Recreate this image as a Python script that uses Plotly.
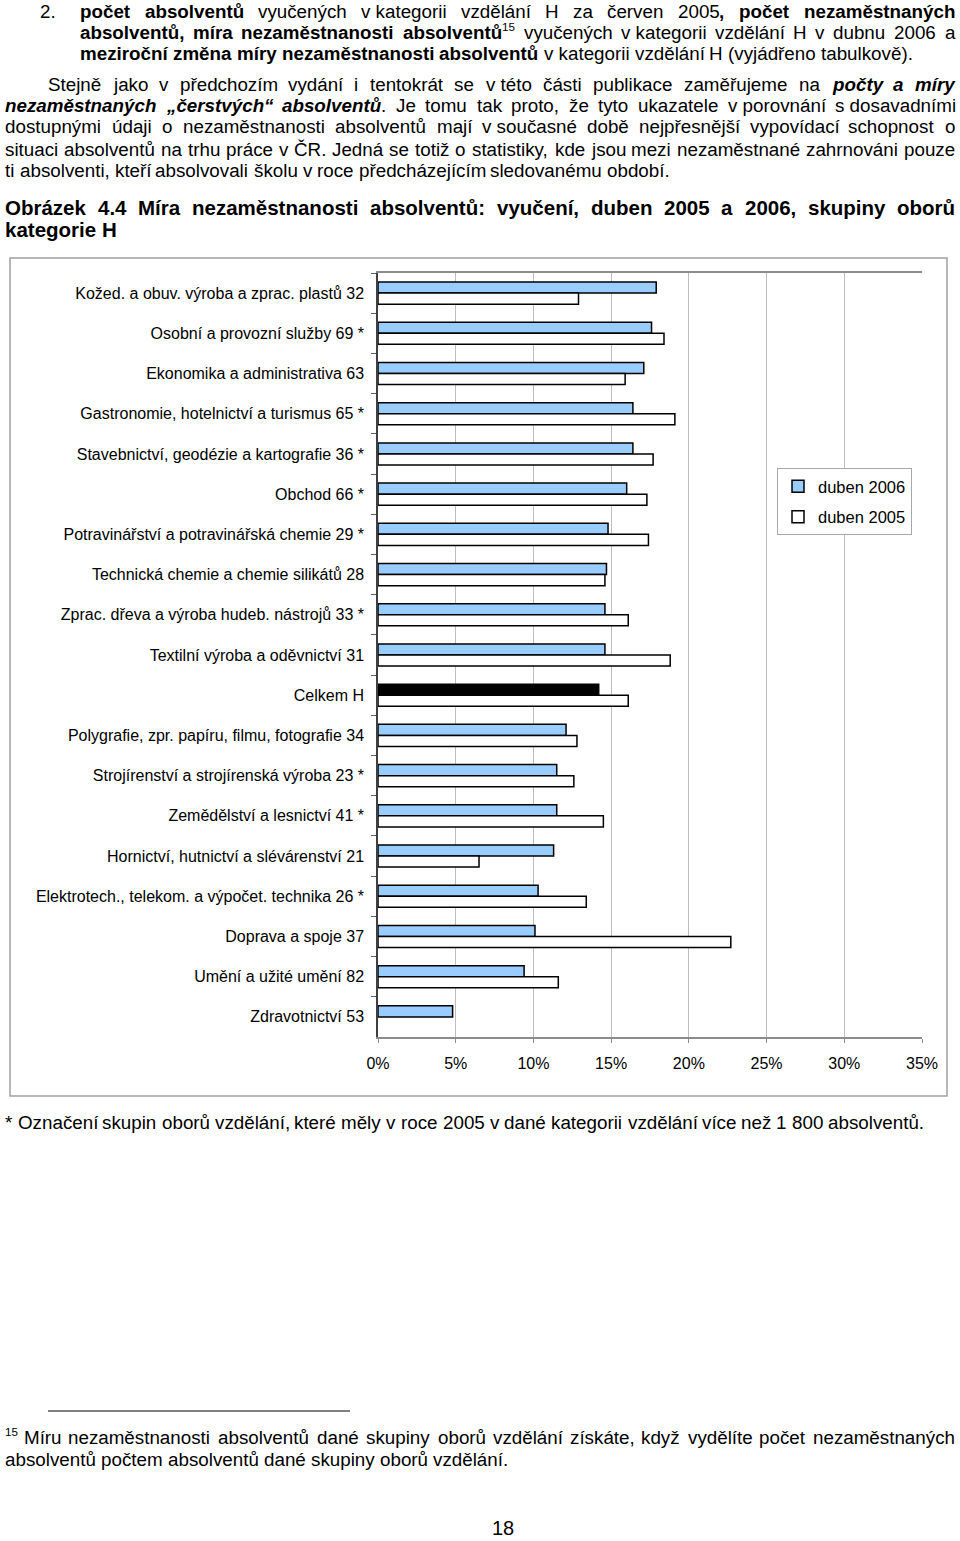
import unicodedata
import plotly.graph_objects as go

# ---------------- data ----------------
categories = [
    "Kožed. a obuv. výroba a zprac. plastů 32",
    "Osobní a provozní služby 69 *",
    "Ekonomika a administrativa 63",
    "Gastronomie, hotelnictví a turismus 65 *",
    "Stavebnictví, geodézie a kartografie 36 *",
    "Obchod 66 *",
    "Potravinářství a potravinářská chemie 29 *",
    "Technická chemie a chemie silikátů 28",
    "Zprac. dřeva a výroba hudeb. nástrojů 33 *",
    "Textilní výroba a oděvnictví 31",
    "Celkem H",
    "Polygrafie, zpr. papíru, filmu, fotografie 34",
    "Strojírenství a strojírenská výroba 23 *",
    "Zemědělství a lesnictví 41 *",
    "Hornictví, hutnictví a slévárenství 21",
    "Elektrotech., telekom. a výpočet. technika 26 *",
    "Doprava a spoje 37",
    "Umění a užité umění 82",
    "Zdravotnictví 53",
]
rate_2006 = [17.9, 17.6, 17.1, 16.4, 16.4, 16.0, 14.8, 14.7, 14.6, 14.6, 14.2,
             12.1, 11.5, 11.5, 11.3, 10.3, 10.1, 9.4, 4.8]
rate_2005 = [12.9, 18.4, 15.9, 19.1, 17.7, 17.3, 17.4, 14.6, 16.1, 18.8, 16.1,
             12.8, 12.6, 14.5, 6.5, 13.4, 22.7, 11.6, None]
series_names = ["duben 2006", "duben 2005"]
total_label = "Celkem H"
x_ticks = [0, 5, 10, 15, 20, 25, 30, 35]
x_tick_text = [f"{v}%" for v in x_ticks]

# ---------------- page geometry ----------------
W, H = 960, 1541
ML, MR, MT, MB = 378, 38, 273, 504
PW, PH = W - ML - MR, H - MT - MB
FONT = "Liberation Sans, Arial, sans-serif"


def px(x):
    return (x - ML) / PW


def py(y):
    return (H - MB - y) / PH


blue = "#99CCFF"
colors_2006 = ["#000000" if c == total_label else blue for c in categories]

fig = go.Figure()
fig.add_trace(go.Bar(
    y=categories, x=rate_2006, orientation="h", name=series_names[0],
    marker=dict(color=colors_2006, line=dict(color="#000000", width=1.5)),
    legendgroup="a",
))
fig.add_trace(go.Bar(
    y=categories, x=rate_2005, orientation="h", name=series_names[1],
    marker=dict(color="#FFFFFF", line=dict(color="#000000", width=1.5)),
    legendgroup="b",
))

fig.update_layout(
    width=W, height=H,
    margin=dict(l=ML, r=MR, t=MT, b=MB),
    paper_bgcolor="white", plot_bgcolor="white",
    barmode="group", bargap=0.45, bargroupgap=0,
    font=dict(family=FONT, size=16, color="#000000"),
    showlegend=True,
    legend=dict(
        x=px(777), y=py(468), xanchor="left", yanchor="top",
        bgcolor="white", bordercolor="#A8A8A8", borderwidth=1,
        font=dict(family=FONT, size=16.5, color="#000"),
        traceorder="grouped", tracegroupgap=6,
    ),
)
fig.update_xaxes(
    range=[0, 35], tickmode="array", tickvals=x_ticks, ticktext=x_tick_text,
    showgrid=True, gridcolor="#BDBDBD", gridwidth=1,
    showline=True, linecolor="#8C8C8C", linewidth=1.5, mirror=True,
    ticks="outside", ticklen=4, tickcolor="#8C8C8C",
    ticklabelstandoff=7, zeroline=False,
    tickfont=dict(family=FONT, size=16, color="#000"),
)
fig.update_yaxes(
    categoryorder="array", categoryarray=categories, autorange="reversed",
    showline=True, linecolor="#404040", linewidth=1.5,
    ticks="outside", ticklen=5, tickcolor="#606060", tickson="boundaries",
    ticklabelstandoff=9, showgrid=False,
    tickfont=dict(family=FONT, size=16, color="#000"),
)

# outer chart frame and footnote rule
fig.add_shape(type="rect", xref="paper", yref="paper",
              x0=px(10), x1=px(947), y0=py(1096), y1=py(258),
              line=dict(color="#A0A0A0", width=1.5), layer="below")
fig.add_shape(type="line", xref="paper", yref="paper",
              x0=px(48), x1=px(350), y0=py(1411), y1=py(1411),
              line=dict(color="#000000", width=1))

# ---------------- page text (justified) ----------------
REG = {' ': 278, '!': 278, '"': 355, '%': 889, '(': 333, ')': 333, '*': 389,
       ',': 278, '-': 333, '.': 278, '/': 278, ':': 278, ';': 278,
       '„': 333, '“': 333,
       'A': 667, 'B': 667, 'C': 722, 'D': 722, 'E': 667, 'F': 611, 'G': 778,
       'H': 722, 'I': 278, 'J': 500, 'K': 667, 'L': 556, 'M': 833, 'N': 722,
       'O': 778, 'P': 667, 'Q': 778, 'R': 722, 'S': 667, 'T': 611, 'U': 722,
       'V': 667, 'W': 944, 'X': 667, 'Y': 667, 'Z': 611,
       'a': 556, 'b': 556, 'c': 500, 'd': 556, 'e': 556, 'f': 278, 'g': 556,
       'h': 556, 'i': 222, 'j': 222, 'k': 500, 'l': 222, 'm': 833, 'n': 556,
       'o': 556, 'p': 556, 'q': 556, 'r': 333, 's': 500, 't': 278, 'u': 556,
       'v': 500, 'w': 722, 'x': 500, 'y': 500, 'z': 500}
BOLD = dict(REG)
BOLD.update({':': 333, ';': 333, '„': 500, '“': 500,
             'A': 722, 'B': 722, 'J': 556, 'K': 722, 'L': 611,
             'b': 611, 'c': 556, 'd': 611, 'f': 333, 'g': 611, 'h': 611,
             'i': 278, 'j': 278, 'k': 556, 'l': 278, 'm': 889, 'n': 611,
             'o': 611, 'p': 611, 'q': 611, 'r': 389, 's': 556, 't': 333,
             'u': 611, 'v': 556, 'w': 778, 'x': 556, 'y': 556})
for d in '0123456789':
    REG[d] = 556
    BOLD[d] = 556


def text_width(txt, style, fs):
    tab = BOLD if style in ("b", "bi") else REG
    tot = 0
    for ch in txt:
        if ch == "\u00a0":
            base = " "
        else:
            base = unicodedata.normalize("NFD", ch)[0]
        tot += tab.get(base, 556)
    return tot * fs / 1000.0


def run_font(style, fs):
    if style == "sup":
        return fs * 0.62
    return fs


def add_line(segs, y, x0, x1, fs, justify):
    words = [[]]
    for txt, style in segs:
        parts = txt.split(" ")
        for i, p in enumerate(parts):
            if i > 0:
                words.append([])
            if p:
                words[-1].append((p, style))
    words = [w for w in words if w]
    widths = [sum(text_width(t, s, run_font(s, fs)) for t, s in w) for w in words]
    if justify and len(words) > 1:
        gap = (x1 - x0 - sum(widths)) / (len(words) - 1)
    else:
        gap = 278 * fs / 1000.0
    x = x0
    for w, ww in zip(words, widths):
        xx = x
        for t, s in w:
            f = run_font(s, fs)
            label = t
            if s == "b":
                label = "<b>" + t + "</b>"
            elif s == "bi":
                label = "<b><i>" + t + "</i></b>"
            yy = y - fs * 0.3 if s == "sup" else y
            fig.add_annotation(
                text=label, xref="paper", yref="paper",
                x=px(xx - 1), y=py(yy), xanchor="left", yanchor="middle",
                showarrow=False, borderpad=0,
                font=dict(family=FONT, size=f, color="#000"),
            )
            xx += text_width(t, s, f) + (1 if s == "sup" else 0)
        x += ww + gap


FS = 18.8
RIGHT = 955
add_line([("2.", "r")], 11, 40, RIGHT, FS, False)
add_line([("počet absolventů", "b"),
          (" vyučených v\u00a0kategorii vzdělání H za červen 2005", "r"),
          (", počet nezaměstnaných", "b")], 11, 80, RIGHT, FS, True)
add_line([("absolventů, míra nezaměstnanosti absolventů", "b"), ("15", "sup"),
          (" vyučených v\u00a0kategorii vzdělání H v dubnu 2006 a", "r")],
         32, 80, RIGHT, FS, True)
add_line([("meziroční změna míry nezaměstnanosti absolventů", "b"),
          (" v\u00a0kategorii vzdělání H (vyjádřeno tabulkově).", "r")],
         53, 80, RIGHT, FS, False)
add_line([("Stejně jako v předchozím vydání i tentokrát se v\u00a0této části "
           "publikace zaměřujeme na ", "r"), ("počty a míry", "bi")],
         85, 48, RIGHT, FS, True)
add_line([("nezaměstnaných „čerstvých“ absolventů", "bi"),
          (". Je tomu tak proto, že tyto ukazatele v\u00a0porovnání "
           "s\u00a0dosavadními", "r")], 106, 5, RIGHT, FS, True)
add_line([("dostupnými údaji o nezaměstnanosti absolventů mají v\u00a0současné "
           "době nejpřesnější vypovídací schopnost o", "r")],
         127, 5, RIGHT, FS, True)
add_line([("situaci absolventů na trhu práce v ČR. Jedná se totiž o statistiky, "
           "kde jsou mezi nezaměstnané zahrnováni pouze", "r")],
         149, 5, RIGHT, FS, True)
add_line([("ti absolventi, kteří absolvovali školu v roce předcházejícím "
           "sledovanému období.", "r")], 170, 5, RIGHT, FS, False)
add_line([("Obrázek 4.4 Míra nezaměstnanosti absolventů: vyučení, duben 2005 "
           "a 2006, skupiny oborů", "b")], 207, 5, RIGHT, 20.5, True)
add_line([("kategorie H", "b")], 230, 5, RIGHT, 20.5, False)
add_line([("* Označení skupin oborů vzdělání, které měly v roce 2005 v dané "
           "kategorii vzdělání více než 1 800 absolventů.", "r")],
         1122, 5, RIGHT, FS, False)
add_line([("15", "sup")], 1437, 5, RIGHT, FS, False)
add_line([("Míru nezaměstnanosti absolventů dané skupiny oborů vzdělání získáte, "
           "když vydělíte počet nezaměstnaných", "r")], 1437, 24, RIGHT, FS, True)
add_line([("absolventů počtem absolventů dané skupiny oborů vzdělání.", "r")],
         1459, 5, RIGHT, FS, False)
fig.add_annotation(text="18", xref="paper", yref="paper", x=px(503), y=py(1528),
                   xanchor="center", yanchor="middle", showarrow=False,
                   borderpad=0, font=dict(family=FONT, size=20, color="#000"))

fig.write_html(
    "out.html",
    config={"displayModeBar": False},
    post_script="document.body.style.margin='0';"
                "document.body.style.overflow='hidden';",
)
